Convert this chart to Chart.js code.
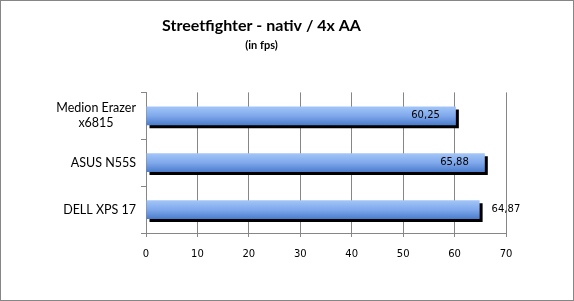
<!DOCTYPE html>
<html><head><meta charset="utf-8">
<script src="https://cdn.jsdelivr.net/npm/chart.js@4/dist/chart.umd.min.js"></script>
<style>
html,body{margin:0;padding:0;background:#fff;}
#wrap{width:572px;height:299px;border:1px solid #868686;position:relative;}
canvas{display:block;}
</style></head>
<body><div id="wrap"><canvas id="c" width="572" height="299"></canvas></div>
<script>
const categories = [["Medion Erazer","x6815"], "ASUS N55S", "DELL XPS 17"];
const fpsValues = [60.25, 65.88, 64.87];
const xTicks = [0, 10, 20, 30, 40, 50, 60, 70];
const titleText = "Streetfighter - nativ / 4x AA";
const subtitleText = "(in fps)";
const labelInside = [true, true, false];

const catFont = {family: "Lato", size: 12.5};
const measureCtx = document.createElement('canvas').getContext('2d');
measureCtx.font = catFont.size + "px " + catFont.family;

const barPlugin = {
  id: 'barStyle',
  beforeDatasetDraw(chart, args) {
    const ctx = chart.ctx;
    const meta = args.meta;
    meta.data.forEach((el) => {
      const top = el.y - el.height / 2, bot = el.y + el.height / 2;
      const g = ctx.createLinearGradient(0, top, 0, bot);
      g.addColorStop(0, '#a3c6f8');
      g.addColorStop(0.5, '#80a9ec');
      g.addColorStop(1, '#4b7ccb');
      const orig = el.options;
      el.options = Object.assign({}, orig, {backgroundColor: g, borderWidth: 0});
      ctx.save();
      ctx.shadowColor = '#000';
      ctx.shadowOffsetX = 3;
      ctx.shadowOffsetY = 3;
      ctx.shadowBlur = 0;
      el.draw(ctx);
      ctx.restore();
      el.options = orig;
    });
    return false;
  },
  afterDatasetsDraw(chart) {
    const ctx = chart.ctx;
    const meta = chart.getDatasetMeta(0);
    ctx.save();
    ctx.font = '10px "DejaVu Sans"';
    ctx.fillStyle = '#000';
    ctx.textBaseline = 'middle';
    meta.data.forEach((el, i) => {
      const txt = fpsValues[i].toFixed(2).replace('.', ',');
      if (labelInside[i]) {
        ctx.textAlign = 'right';
        ctx.fillText(txt, el.x - 16, el.y);
      } else {
        ctx.textAlign = 'left';
        ctx.fillText(txt, el.x + 12, el.y);
      }
    });
    ctx.restore();
  }
};

new Chart(document.getElementById('c'), {
  type: 'bar',
  data: {
    labels: categories,
    datasets: [{data: fpsValues, backgroundColor: '#4f81bd', barPercentage: 0.4, categoryPercentage: 1.0}]
  },
  options: {
    indexAxis: 'y',
    responsive: false,
    animation: false,
    devicePixelRatio: 1,
    layout: {padding: {left: 16, right: 67, top: 0, bottom: 0}},
    plugins: {
      legend: {display: false},
      tooltip: {enabled: false},
      title: {display: true, text: titleText, color: '#000',
        font: {family: 'Lato', size: 16, weight: 'bold', lineHeight: 1.2},
        padding: {top: 15, bottom: 3}},
      subtitle: {display: true, text: subtitleText, color: '#000',
        font: {family: 'Lato', size: 11, weight: 'bold', lineHeight: 1.2},
        padding: {top: 1, bottom: 40}}
    },
    scales: {
      x: {
        min: 0, max: 70,
        afterBuildTicks(scale) { scale.ticks = xTicks.map(v => ({value: v})); },
        afterFit(scale) { scale.height = 67; },
        grid: {color: '#868686', lineWidth: 1, tickLength: 4, drawTicks: true},
        border: {color: '#868686'},
        ticks: {color: '#000', font: {family: 'DejaVu Sans', size: 10}, padding: 11, maxRotation: 0}
      },
      y: {
        afterFit(scale) { scale.width = 129; },
        grid: {display: true, drawOnChartArea: false, color: '#868686', tickLength: 5, offset: true},
        border: {color: '#868686'},
        ticks: {
          color: '#000', font: catFont, padding: 5,
          callback(value) {
            const lbl = categories[value];
            if (Array.isArray(lbl)) {
              const widths = lbl.map(s => measureCtx.measureText(s).width);
              const maxW = Math.max(...widths);
              const sp = measureCtx.measureText('\u00A0').width;
              return lbl.map((s, k) => s + '\u00A0'.repeat(Math.round((maxW - widths[k]) / 2 / sp)));
            }
            return lbl;
          }
        }
      }
    }
  },
  plugins: [barPlugin]
});
</script></body></html>
